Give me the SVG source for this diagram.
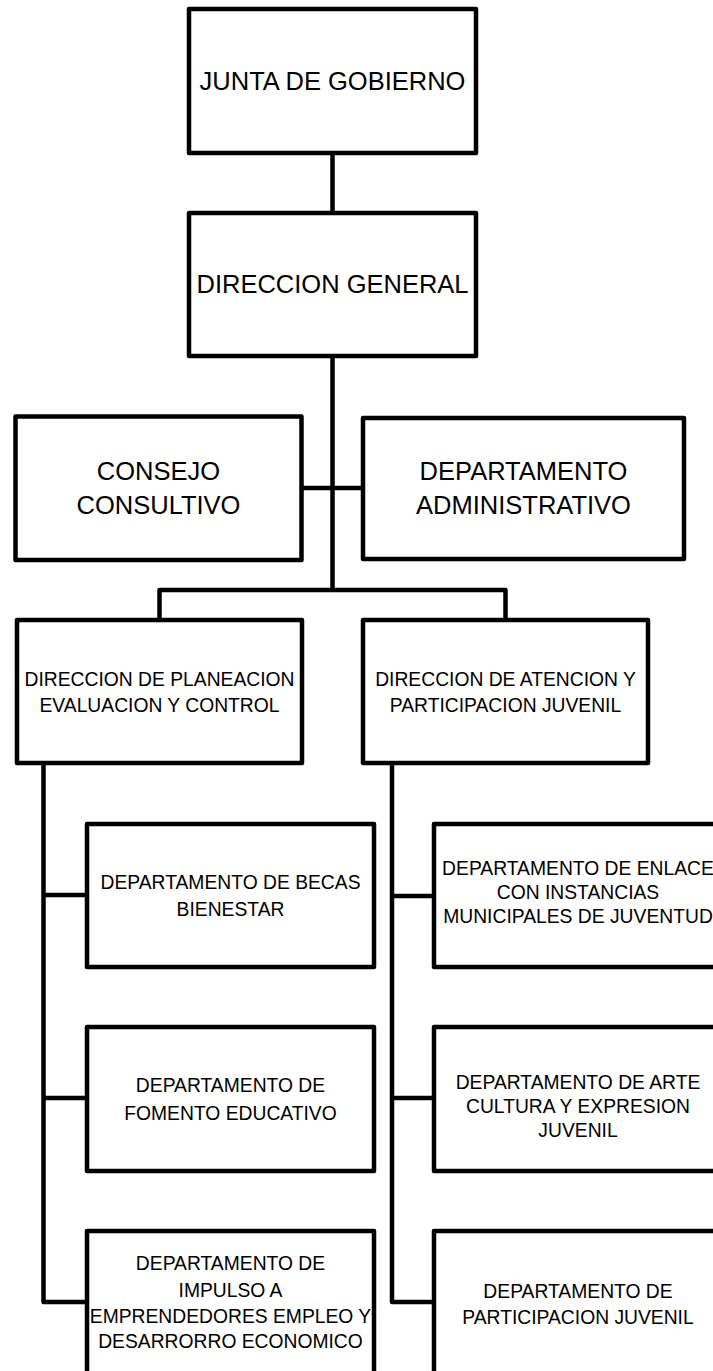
<svg xmlns="http://www.w3.org/2000/svg" width="713" height="1371" viewBox="0 0 713 1371">
<style>
.b{fill:#fff;stroke:#000;stroke-width:4.5;stroke-linejoin:round}
.c{fill:none;stroke:#000;stroke-width:4.5;stroke-linejoin:round}
text{font-family:"Liberation Sans",Arial,sans-serif;fill:#000;text-anchor:middle}
.L{font-size:25.5px}
.S{font-size:19.3px}
</style>
<rect width="713" height="1371" fill="#fff"/>
<g id="connectors">
<path class="c" d="M332.5 153V213"/>
<path class="c" d="M332.5 356V590"/>
<path class="c" d="M301.5 488H363"/>
<path class="c" d="M159.5 620V590H505.5V620"/>
<path class="c" d="M43.5 763V1302H87"/>
<path class="c" d="M43.5 895H87"/>
<path class="c" d="M43.5 1098H87"/>
<path class="c" d="M392 763V1302H434"/>
<path class="c" d="M392 896H434"/>
<path class="c" d="M392 1098H434"/>
</g>
<g id="junta">
<rect class="b" x="189" y="9" width="287" height="144"/>
<text class="L" x="332.5" y="90">JUNTA DE GOBIERNO</text>
</g>
<g id="direccion-general">
<rect class="b" x="189" y="213" width="287" height="143"/>
<text class="L" x="332.5" y="293">DIRECCION GENERAL</text>
</g>
<g id="consejo">
<rect class="b" x="15.5" y="416.5" width="286" height="143.5"/>
<text class="L" x="158.5" y="480">CONSEJO</text>
<text class="L" x="158.5" y="514">CONSULTIVO</text>
</g>
<g id="administrativo">
<rect class="b" x="363" y="418" width="321" height="141"/>
<text class="L" x="523.5" y="480">DEPARTAMENTO</text>
<text class="L" x="523.5" y="514">ADMINISTRATIVO</text>
</g>
<g id="planeacion">
<rect class="b" x="17" y="620" width="285" height="143"/>
<text class="S" x="159.5" y="686">DIRECCION DE PLANEACION</text>
<text class="S" x="159.5" y="712">EVALUACION Y CONTROL</text>
</g>
<g id="atencion">
<rect class="b" x="363" y="620" width="285" height="143"/>
<text class="S" x="505.5" y="686">DIRECCION DE ATENCION Y</text>
<text class="S" x="505.5" y="712">PARTICIPACION JUVENIL</text>
</g>
<g id="becas">
<rect class="b" x="87" y="824" width="287" height="143"/>
<text class="S" x="230.5" y="889">DEPARTAMENTO DE BECAS</text>
<text class="S" x="230.5" y="916">BIENESTAR</text>
</g>
<g id="fomento">
<rect class="b" x="87" y="1027" width="287" height="144"/>
<text class="S" x="230.5" y="1092">DEPARTAMENTO DE</text>
<text class="S" x="230.5" y="1120">FOMENTO EDUCATIVO</text>
</g>
<g id="impulso">
<rect class="b" x="87" y="1231" width="287" height="150"/>
<text class="S" x="230.5" y="1270">DEPARTAMENTO DE</text>
<text class="S" x="230.5" y="1297">IMPULSO A</text>
<text class="S" x="230.5" y="1323">EMPRENDEDORES EMPLEO Y</text>
<text class="S" x="230.5" y="1348">DESARRORRO ECONOMICO</text>
</g>
<g id="enlace">
<rect class="b" x="434" y="824" width="287" height="143"/>
<text class="S" x="578" y="875">DEPARTAMENTO DE ENLACE</text>
<text class="S" x="578" y="899">CON INSTANCIAS</text>
<text class="S" x="578" y="923">MUNICIPALES DE JUVENTUD</text>
</g>
<g id="arte">
<rect class="b" x="434" y="1027" width="287" height="144"/>
<text class="S" x="578" y="1089">DEPARTAMENTO DE ARTE</text>
<text class="S" x="578" y="1113">CULTURA Y EXPRESION</text>
<text class="S" x="578" y="1137">JUVENIL</text>
</g>
<g id="participacion">
<rect class="b" x="434" y="1231" width="287" height="150"/>
<text class="S" x="578" y="1298">DEPARTAMENTO DE</text>
<text class="S" x="578" y="1324">PARTICIPACION JUVENIL</text>
</g>
</svg>
